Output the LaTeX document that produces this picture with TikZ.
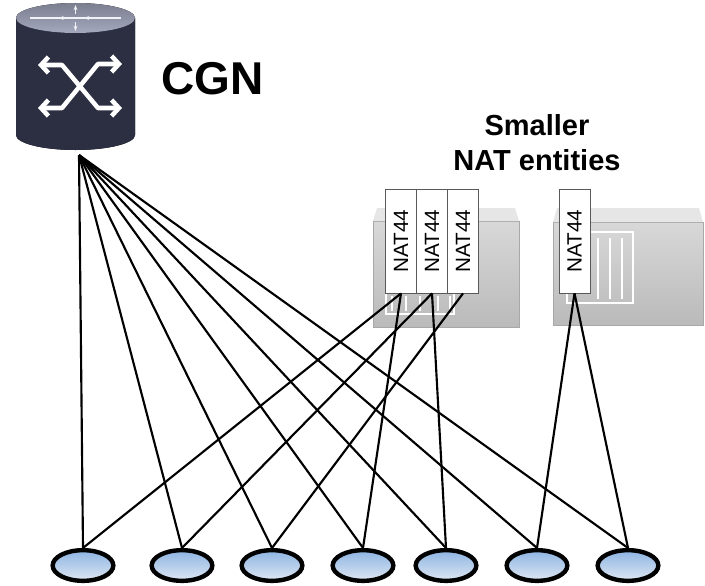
\documentclass[tikz,border=0pt]{standalone}
\usepackage{fontspec}
\setmainfont{Liberation Sans}
\usetikzlibrary{shapes.geometric,arrows.meta}

\definecolor{hostTop}{RGB}{141,180,226}
\definecolor{hostBot}{RGB}{222,231,243}
\definecolor{cgnDark}{RGB}{44,46,66}
\definecolor{cgnMid}{RGB}{112,118,155}
\definecolor{cgnLid}{RGB}{164,168,190}
\definecolor{devTop}{RGB}{216,216,216}
\definecolor{devBot}{RGB}{186,186,186}
\definecolor{devLid}{RGB}{230,230,230}
\definecolor{devEdge}{RGB}{168,168,168}

\tikzset{
  host/.style={ellipse, draw=black, line width=3.3pt, minimum width=45.5pt, minimum height=23pt,
    inner sep=0pt, top color=hostTop, bottom color=hostBot},
  natbox/.style={draw=black!65, fill=white, line width=0.6pt, minimum width=23.25pt, minimum height=78pt,
    inner sep=0pt, font=\fontsize{15.5}{18}\selectfont},
  link/.style={line width=1.6pt},
  slot/.style={white, line width=1.6pt},
  lidmark/.style={white!85!cgnLid, line width=1.3pt},
  xarrow/.style={white, line width=3.4pt, line join=round,
    {Straight Barb[length=5.5pt,width=12pt,line width=3.4pt]}-{Straight Barb[length=5.5pt,width=12pt,line width=3.4pt]}}
}

\begin{document}
\begin{tikzpicture}[x=0.75pt,y=0.75pt,yscale=-1,xscale=1]
\useasboundingbox (0,0) rectangle (705,585);

%Shape: Router body
\fill[left color=cgnDark, middle color=cgnMid, right color=cgnDark] (16,18) -- (16,135) arc[start angle=180, end angle=0, x radius=59.5, y radius=15] -- (135,18) -- cycle;
%Shape: Router lid
\fill[top color=cgnLid!75!black, bottom color=cgnLid] (75.5,18) ellipse[x radius=59.5, y radius=15];
\draw[lidmark] (30,18) -- (121,18);
\draw[lidmark, -{Stealth[length=4pt]}] (75.5,14) -- (75.5,5);
\draw[lidmark, -{Stealth[length=4pt]}] (75.5,22) -- (75.5,31);
\draw[lidmark, -{Stealth[length=4pt]}] (52,18) -- (67,18);
\draw[lidmark, -{Stealth[length=4pt]}] (99,18) -- (84,18);
%Shape: Router cross
\draw[xarrow] (38,65) -- (62,65) -- (98,108) -- (122,108);
\draw[xarrow] (122,64) -- (98,64) -- (62,108) -- (38,108);
\coordinate (cgnport) at (79,155);

%Shape: Line card left
\draw[draw=devEdge, top color=devTop, bottom color=devBot] (373,221) -- (373,327) -- (519,327) -- (519,221) -- cycle;
\fill[devLid] (373,221) -- (377,208) -- (515,208) -- (519,221) -- cycle;
\draw[slot] (386,236) rectangle (454,314);
\draw[slot] (392,296) -- (392,311) (406,296) -- (406,311) (420,296) -- (420,311) (438,296) -- (438,311) (450,296) -- (450,311);
%Shape: Line card right
\draw[draw=devEdge, top color=devTop, bottom color=devBot] (553,222) -- (553,325) -- (703,325) -- (703,222) -- cycle;
\fill[devLid] (553,222) -- (557,208) -- (699,208) -- (703,222) -- cycle;
\draw[slot] (567,232) rectangle (633,303);
\draw[slot] (598,238) -- (598,299) (610,238) -- (610,299) (622,238) -- (622,299);

% Text Node
\node[anchor=base west, inner sep=0pt, font=\bfseries\fontsize{34.5}{40}\selectfont] (cgnlabel) at (161,94) {CGN};
% Text Node
\node[anchor=north, inner sep=0pt, align=center, font=\bfseries\fontsize{21.75}{26.25}\selectfont] (natlabel) at (537,114) {Smaller\\NAT entities};

%Shape: NAT44 boxes
\node[natbox] (nat1) at (401,241) {\rotatebox{90}{NAT44}};
\node[natbox] (nat2) at (432,241) {\rotatebox{90}{NAT44}};
\node[natbox] (nat3) at (463,241) {\rotatebox{90}{NAT44}};
\node[natbox] (nat4) at (574.5,241) {\rotatebox{90}{NAT44}};

%Shape: Subscriber ellipses
\node[host] (h1) at (83,565.5) {};
\node[host] (h2) at (182,565.5) {};
\node[host] (h3) at (272,565.5) {};
\node[host] (h4) at (363,565.5) {};
\node[host] (h5) at (446,565.5) {};
\node[host] (h6) at (537,565.5) {};
\node[host] (h7) at (628,565.5) {};

%Straight Lines from the CGN
\draw[link] (cgnport) -- (h1.north);
\draw[link] (cgnport) -- (h2.north);
\draw[link] (cgnport) -- (h3.north);
\draw[link] (cgnport) -- (h4.north);
\draw[link] (cgnport) -- (h5.north);
\draw[link] (cgnport) -- (h6.north);
\draw[link] (cgnport) -- (h7.north);
%Straight Lines from the NAT44 boxes
\draw[link] (nat1.south) -- (h1.north);
\draw[link] (nat1.south) -- (h4.north);
\draw[link] (nat2.south) -- (h2.north);
\draw[link] (nat2.south) -- (h5.north);
\draw[link] (nat3.south) -- (h3.north);
\draw[link] (nat4.south) -- (h6.north);
\draw[link] (nat4.south) -- (h7.north);

\end{tikzpicture}
\end{document}
